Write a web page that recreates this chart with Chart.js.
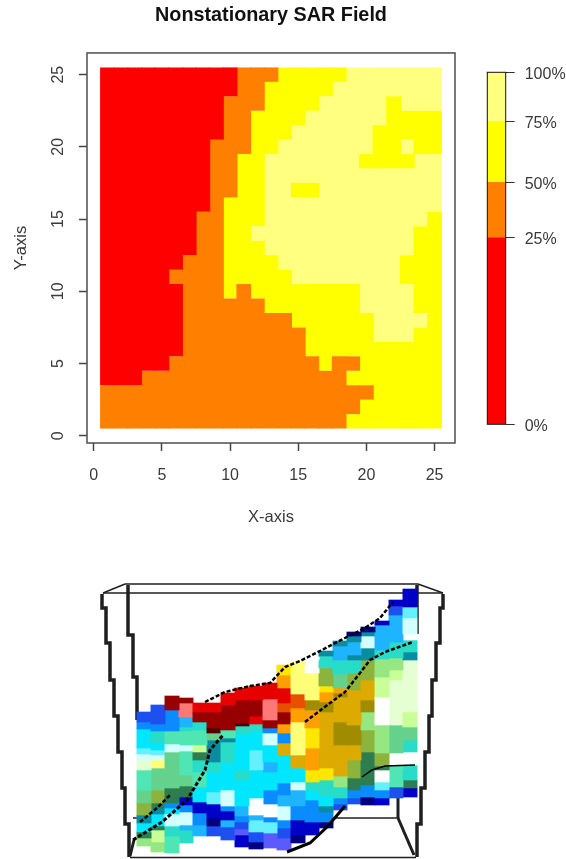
<!DOCTYPE html>
<html>
<head>
<meta charset="utf-8">
<title>Nonstationary SAR Field</title>
<script src="https://cdn.jsdelivr.net/npm/chart.js@4"></script>
<style>
  html, body { margin:0; padding:0; background:#fff; }
  #page { position:relative; width:566px; height:859px; overflow:hidden; }
  canvas { position:absolute; display:block; }
  #fieldChart { left:0; top:0; }
  #legendChart { left:470px; top:55px; }
  #surfaceChart { left:95px; top:578px; filter:blur(0.5px); }
</style>
</head>
<body>
<div id="page">
  <canvas id="fieldChart" width="542" height="530"></canvas>
  <canvas id="legendChart" width="96" height="385"></canvas>
  <canvas id="surfaceChart" width="360" height="281"></canvas>
</div>
<script>
/* ---------- Field data: quartile class of each cell, top row is y = 25 ---------- */
const xTicks = [0, 5, 10, 15, 20, 25];
const yTicks = [0, 5, 10, 15, 20, 25];
const classColors = ['#ff0000', '#ff8000', '#ffff00', '#ffff80'];
const fieldRows = [
  '0000000000111222223333333',
  '0000000000112222233333333',
  '0000000001112222333332333',
  '0000000001122223333332222',
  '0000000001122233333322222',
  '0000000011122333333322322',
  '0000000011223333333222233',
  '0000000011223333333333333',
  '0000000011223322333333333',
  '0000000012223333333333333',
  '0000000112223333333333332',
  '0000000112233333333333322',
  '0000000112223333333333322',
  '0000001112222333333333222',
  '0000011112222233333333222',
  '0000001112122222222333322',
  '0000001111112222222333322',
  '0000001111111122222233332',
  '0000001111111112222233322',
  '0000001111111112222222222',
  '0000011111111111211222222',
  '0001111111111111112222222',
  '1111111111111111111122222',
  '1111111111111111111222222',
  '1111111111111111112222222'
];

/* ---------- Legend data ---------- */
const legendBreaks = [0, 53, 68.75, 85.97, 100];
const legendLabels = ['0%', '25%', '50%', '75%', '100%'];

/* ---------- Surface view: per column, band edges read down the picture ---------- */
const surfaceColumns = [144, 158, 172, 186, 200, 214, 228, 242, 256, 270, 284, 298, 312, 326, 340, 354, 368, 382, 396, 410];
const surfaceEdges = [
  [712,722,729,748,754,760,770,790,803,815,823,832,838,846],
  [705,724,731,743,750,755,760,768,790,803,808,814,826,830,842,852],
  [696,710,731,744,752,788,798,803,808,814,826,836,853],
  [698,703,717,727,731,745,751,775,786,792,797,805,812,825,830,843],
  [703,712,722,730,745,752,760,772,787,802,813,825,836],
  [703,712,728,733,740,752,762,772,792,804,818,826,836],
  [693,705,730,738,742,763,790,806,811,820,827,840],
  [688,700,723,726,734,770,780,806,816,822,829,835,847],
  [686,700,716,724,731,750,770,798,815,820,832,842,849],
  [683,699,720,728,733,745,762,772,790,804,817,822,833,848],
  [665,668,675,688,703,712,724,733,743,755,783,795,806,820,828,838,850],
  [662,665,694,708,722,755,768,782,790,806,820,835,843],
  [657,660,673,700,710,728,748,770,782,790,800,822,835],
  [651,656,668,686,692,702,712,768,780,796,806,812,822,828],
  [641,646,660,674,688,693,697,722,745,776,787,798,804,810],
  [632,636,642,655,660,668,673,690,725,745,760,778,790,798,804],
  [627,632,636,648,656,660,680,700,712,730,752,785,797,805],
  [621,625,650,659,677,697,725,753,766,770,782,790,798,805],
  [600,606,615,642,646,650,658,670,680,725,753,765,769,787,798],
  [589,607,618,634,640,643,652,660,712,727,740,752,765,780,788,797]
];
const surfaceTints = [
  'bacCWetgoqcdG',
  'baTcCWYgodqcdEG',
  'DatWgddacWTt',
  'DPsTtWtgddBaWsT',
  'RDTtEdTtcBas',
  'RDMgqqTcCBNb',
  'RDtqTcWaBsb',
  'RDMTcTcsablB',
  'RDRTcCcwsCbN',
  'RPDaWcscawaCl',
  'yyORrDOaucasWabl',
  'YYrOYucWsaBN',
  'wwYkOyOyTcaB',
  'qToyOkuyTcqaN',
  'qsTgOkukuGTab',
  'NqsqTToukuodab',
  'NqWqqoukGodaN',
  'BsTGEwGodwCaB',
  'BbsTTTGEegwttb',
  'BCWwTTqeEgTwTdB'
];
const tintColors = {
  B:'#0000c8', N:'#000080', b:'#1e50f0', l:'#5a5aff', a:'#0a8cff', s:'#1eb4ff',
  c:'#00e6ff', C:'#64f0ff', W:'#d2ffff', w:'#ffffff', T:'#28dcc8', t:'#50e6b4',
  g:'#64d28c', G:'#96e682', o:'#8cb43c', d:'#2d7d50', q:'#0a8ca0', y:'#ffe600',
  Y:'#ffff78', O:'#ffa000', u:'#dcaa00', k:'#a08c00', R:'#e60000', D:'#960000',
  M:'#500000', P:'#ff7878', r:'#e65000', e:'#e6ffd2', E:'#c8ff96'
};

/* ---------- Surface view: dark creases and edges, x/y pairs ---------- */
const creaseTop = [[205,702],[225,692],[250,686],[270,683],[285,667],[300,661],[320,651],[345,638],[365,628],[380,618],[393,602]];
const creaseLeftLow = [[133,840],[162,822],[187,800],[205,770],[210,750],[223,735]];
const creaseLeftHigh = [[140,822],[157,808],[170,795]];
const creaseRight = [[305,722],[330,703],[345,692],[360,673],[370,660],[385,652],[413,642]];
const creaseFoot = [[345,806],[327,827],[310,843],[287,852]];
const creaseSmall = [[362,777],[372,770],[385,766],[415,765]];

/* ---------- Surface view: the box around it ---------- */
const postLevels = [594, 608, 643, 680, 716, 752, 788, 824, 857];
const leftOuterPost = [102, 106, 110, 114, 118, 122, 125, 129];
const rightOuterPost = [443, 440, 436, 432, 429, 425, 421, 417];
const leftInnerLevels = [585, 635, 677, 720];
const leftInnerPost = [128, 133, 137];
const rightInnerLevels = [585, 634];
const rightInnerPost = [417];
const boxEdges = [
  [125, 584, 418, 584],
  [103, 593, 443, 593],
  [103, 593, 125, 584],
  [418, 584, 443, 593],
  [130, 857.5, 416, 857.5],
  [133, 818, 398, 818]
];
const backCorners = [
  [398, 798, 398, 818],
  [398, 818, 414, 855],
  [134, 840, 130, 856]
];

/* ---------- Helpers ---------- */
// runs of one class down each column, merged so there are no seams inside a run
function fieldRuns(cls){
  const out = [];
  for (let c = 0; c < 25; c++){
    let start = null;
    for (let r = 0; r <= fieldRows.length; r++){
      const hit = r < fieldRows.length && Number(fieldRows[r][c]) === cls;
      if (hit && start === null) start = r;
      if (!hit && start !== null){
        out.push({ x: c + 1, y: [25 - r + 0.5, 25 - start + 0.5] });
        start = null;
      }
    }
  }
  return out;
}
function postPoints(xs, levels){
  const pts = xs.map((x, i) => ({ x, y: levels[i] }));
  pts.push({ x: xs[xs.length - 1], y: levels[levels.length - 1] });
  return pts;
}
function lineSet(data, width, stepped){
  return { type:'line', data, borderColor:'#1f1f1f', borderWidth:width, stepped:stepped ? 'after' : false,
           pointRadius:0, fill:false, order:2, parsing:false };
}
function creaseSet(pairs, width, dash){
  return { type:'line', data:pairs.map(p => ({ x:p[0], y:p[1] })), borderColor:'#000000', borderWidth:width,
           borderDash:dash, pointRadius:0, fill:false, order:0, parsing:false };
}
// picks which tick positions get drawn instead of the automatic ones
const fixedTicks = (vals) => (scale) => { scale.ticks = vals.map(value => ({ value })); };

const frame = {
  id:'frame',
  afterDatasetsDraw(chart, args, opts){
    const { ctx, chartArea:a } = chart;
    ctx.save();
    ctx.strokeStyle = opts.color;
    ctx.lineWidth = opts.width;
    ctx.strokeRect(a.left, a.top, a.right - a.left, a.bottom - a.top);
    ctx.restore();
  }
};

const textGray = '#3a3a3a';
const sans = '"Liberation Sans", Arial, sans-serif';

/* ---------- Top chart ---------- */
new Chart(document.getElementById('fieldChart'), {
  type:'bar',
  data:{
    datasets: classColors.map((color, cls) => ({
      data: fieldRuns(cls),
      backgroundColor: color,
      borderWidth: 0,
      grouped: false,
      barPercentage: 1.08,
      categoryPercentage: 1
    }))
  },
  plugins:[frame],
  options:{
    responsive:false,
    animation:false,
    plugins:{
      legend:{ display:false },
      tooltip:{ enabled:false },
      frame:{ color:'#4d4d4d', width:1.5 },
      title:{
        display:true,
        text:'Nonstationary SAR Field',
        color:'#111111',
        font:{ family:sans, size:19.8, weight:'bold' },
        padding:{ top:4, bottom:25.2 }
      }
    },
    scales:{
      x:{
        type:'linear', min:-0.5, max:26.5, offset:false,
        afterBuildTicks: fixedTicks(xTicks),
        afterFit(s){ s.height = 87; },
        border:{ display:false },
        grid:{ offset:false, drawOnChartArea:false, tickLength:8, tickColor:'#444444', tickWidth:1.5 },
        ticks:{ color:textGray, font:{ family:sans, size:16 }, padding:15, maxRotation:0 },
        title:{ display:true, text:'X-axis', color:textGray, font:{ family:sans, size:16.5 }, padding:{ top:0, bottom:3 } }
      },
      y:{
        type:'linear', min:-0.5, max:26.5,
        afterBuildTicks: fixedTicks(yTicks),
        afterFit(s){ s.width = 87; },
        border:{ display:false },
        grid:{ drawOnChartArea:false, tickLength:8, tickColor:'#444444', tickWidth:1.5 },
        ticks:{ color:textGray, font:{ family:sans, size:16 }, padding:12, minRotation:90, maxRotation:90, crossAlign:'center' },
        title:{ display:true, text:'Y-axis', color:textGray, font:{ family:sans, size:16.5 }, padding:{ top:12, bottom:0 } }
      },
      // empty right margin so the title centres over the plot box
      margin:{
        type:'linear', position:'right', min:0, max:1,
        afterFit(s){ s.width = 87; },
        border:{ display:false },
        grid:{ display:false },
        ticks:{ display:false }
      }
    }
  }
});

/* ---------- Colour key ---------- */
new Chart(document.getElementById('legendChart'), {
  type:'bar',
  data:{
    labels:[''],
    datasets: classColors.map((color, i) => ({
      data:[[legendBreaks[i], legendBreaks[i + 1]]],
      backgroundColor: color,
      borderWidth: 0,
      grouped: false,
      barPercentage: 1,
      categoryPercentage: 1
    }))
  },
  plugins:[frame],
  options:{
    responsive:false,
    animation:false,
    layout:{ padding:{ left:17.3, top:17.3, bottom:15.7 } },
    plugins:{ legend:{ display:false }, tooltip:{ enabled:false }, frame:{ color:'#111111', width:1 } },
    scales:{
      x:{ display:false },
      y:{
        position:'right', min:0, max:100,
        afterBuildTicks: fixedTicks(legendBreaks),
        afterFit(s){ s.width = 60.3; s.paddingTop = 0; s.paddingBottom = 0; },
        border:{ display:false },
        grid:{ drawOnChartArea:false, tickLength:9, tickColor:'#333333', tickWidth:1 },
        ticks:{
          color:textGray, font:{ family:sans, size:16 }, padding:10, labelOffset:2,
          callback:(v) => legendLabels[legendBreaks.indexOf(v)]
        }
      }
    }
  }
});

/* ---------- Surface view ---------- */
const bandCount = Math.max(...surfaceTints.map(t => t.length));
const surfaceBands = [];
for (let j = 0; j < bandCount; j++){
  const data = [], colors = [];
  surfaceColumns.forEach((x, c) => {
    if (j >= surfaceTints[c].length) return;
    data.push({ x, y:[surfaceEdges[c][j], surfaceEdges[c][j + 1]] });
    colors.push(tintColors[surfaceTints[c][j]]);
  });
  surfaceBands.push({ data, backgroundColor:colors, borderWidth:0, grouped:false, barPercentage:1, categoryPercentage:1, barThickness:14.3, order:1 });
}
const pairLine = (e) => [{ x:e[0], y:e[1] }, { x:e[2], y:e[3] }];

new Chart(document.getElementById('surfaceChart'), {
  type:'bar',
  data:{
    datasets:[
      ...surfaceBands,
      lineSet(postPoints(leftOuterPost, postLevels), 3.5, true),
      lineSet(postPoints(rightOuterPost, postLevels), 3.5, true),
      lineSet(postPoints(leftInnerPost, leftInnerLevels), 3.5, true),
      lineSet(postPoints(rightInnerPost, rightInnerLevels), 3.5, true),
      ...boxEdges.map(e => lineSet(pairLine(e), 1.5, false)),
      ...backCorners.map(e => lineSet(pairLine(e), 3, false)),
      creaseSet(creaseTop, 2.5, [4, 2]),
      creaseSet(creaseLeftLow, 3, [4, 2]),
      creaseSet(creaseLeftHigh, 2.5, [4, 2]),
      creaseSet(creaseRight, 2.5, [4, 2]),
      creaseSet(creaseFoot, 3, []),
      creaseSet(creaseSmall, 1.5, [])
    ]
  },
  options:{
    responsive:false,
    animation:false,
    plugins:{ legend:{ display:false }, tooltip:{ enabled:false } },
    scales:{
      x:{ type:'linear', display:false, min:95, max:455, offset:false },
      y:{ type:'linear', display:false, min:578, max:859, reverse:true }
    }
  }
});
</script>
</body>
</html>
